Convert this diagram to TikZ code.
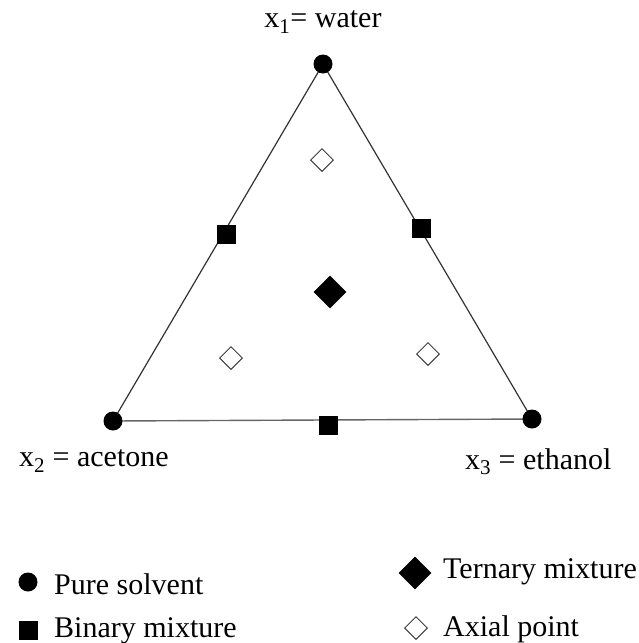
\documentclass[tikz,border=0pt]{standalone}
\usepackage{fontspec}
\setmainfont{Liberation Serif}
\usetikzlibrary{shapes.geometric}
\begin{document}
\begin{tikzpicture}[x=1pt,y=-1pt,
  pure/.style={circle,fill=black,inner sep=0pt,minimum size=19pt},
  binary/.style={rectangle,fill=black,inner sep=0pt,minimum size=19pt},
  ternary/.style={diamond,fill=black,inner sep=0pt,minimum width=33pt,minimum height=33pt},
  axial/.style={diamond,draw=black!75,line width=1pt,fill=white,inner sep=0pt,minimum width=23pt,minimum height=23pt},
  side/.style={draw=black!80,line width=1.2pt},
  lbl/.style={font=\fontsize{30}{34}\selectfont,inner sep=0pt}]
\useasboundingbox (0,0) rectangle (638,643);
% triangle
\coordinate (T) at (323,64);
\coordinate (L) at (113,421);
\coordinate (R) at (532,419);
\draw[side] (T) -- (L);
\draw[side] (T) -- (R);
\draw[draw=black!60,line width=1.4pt] (L) -- (R);
% points
\node[pure] (pT) at (T) {};
\node[pure] (pL) at (L) {};
\node[pure] (pR) at (R) {};
\node[binary] (bL) at (226,234) {};
\node[binary] (bR) at (421,228) {};
\node[binary] (bB) at (328,425) {};
\node[ternary] (t) at (330,292) {};
\node[axial] (a1) at (322,160) {};
\node[axial] (a2) at (231,358) {};
\node[axial] (a3) at (428,354) {};
% labels
\node[lbl] (l1) at (323,22) {x\textsubscript{1}= water};
\node[lbl,anchor=west] (l2) at (19,461) {x\textsubscript{2} = acetone};
\node[lbl,anchor=west] (l3) at (465,462) {x\textsubscript{3} = ethanol};
% legend
\node[pure] (gp) at (28,582) {};
\node[lbl,anchor=west] (gpt) at (54,584) {Pure solvent};
\node[binary] (gb) at (28,630) {};
\node[lbl,anchor=west] (gbt) at (54,631) {Binary mixture};
\node[ternary] (gt) at (415,573) {};
\node[lbl,anchor=west] (gtt) at (443,572) {Ternary mixture};
\node[axial] (ga) at (416,628) {};
\node[lbl,anchor=west] (gat) at (443,629) {Axial point};
\end{tikzpicture}
\end{document}
